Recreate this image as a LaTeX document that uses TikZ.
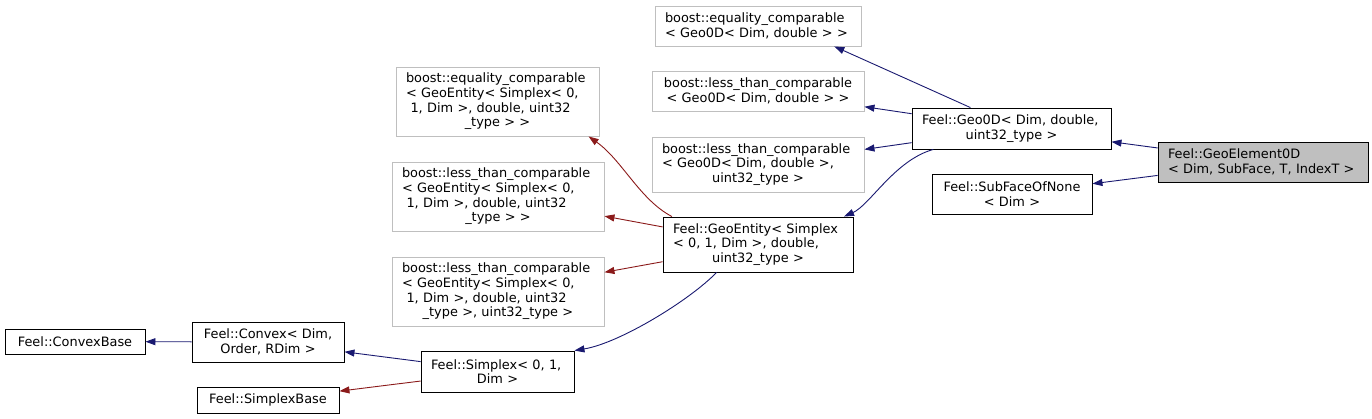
\documentclass[tikz,border=0pt]{standalone}
\usepackage{fontspec}
\setmainfont{DejaVu Sans}
\usetikzlibrary{arrows.meta}
\definecolor{edgeblue}{HTML}{191970}
\definecolor{edgered}{HTML}{8B1A1A}
\definecolor{boxgray}{HTML}{BFBFBF}
\newcommand\ctrline[1]{\hspace*{\fill}#1\hspace*{\fill}\mbox{}}

\begin{document}
\begin{tikzpicture}[x=1pt, y=-1pt,
  cls/.style={draw=black, line width=0.9pt, fill=white, inner xsep=10pt, inner ysep=2pt,
    align=left, font=\fontsize{12.9}{14.7}\selectfont},
  ext/.style={cls, draw=boxgray},
  pub/.style={draw=edgeblue, line width=0.9pt, -{Triangle[length=10pt,width=7pt]}},
  prot/.style={pub, draw=edgered}]
  \useasboundingbox (0,0) rectangle (1372,419);
  % the class itself
  \node[cls, fill=boxgray, text width=190pt, minimum height=40pt] (gel) at (1263,162)
    {Feel::GeoElement0D\\< Dim, SubFace, T, IndexT >};
  % direct bases
  \node[cls, text width=179pt, minimum height=41pt] (geo0d) at (1011.5,128.5)
    {Feel::Geo0D< Dim, double,\\\ctrline{uint32\_type >}};
  \node[cls, text width=140pt, minimum height=40pt, align=center] (subface) at (1012,194)
    {Feel::SubFaceOfNone\\< Dim >};
  % bases of Geo0D
  \node[ext, text width=186pt, minimum height=40pt] (eqgeo) at (758,26)
    {boost::equality\_comparable\\< Geo0D< Dim, double > >};
  \node[ext, text width=192pt, minimum height=40pt, align=center] (lessgeo) at (758,91)
    {boost::less\_than\_comparable\\< Geo0D< Dim, double > >};
  \node[ext, text width=192pt, minimum height=55pt] (lessgeo32) at (758,164.5)
    {boost::less\_than\_comparable\\< Geo0D< Dim, double >,\\\ctrline{uint32\_type >}};
  \node[cls, text width=170pt, minimum height=55pt] (geoent) at (758,244.5)
    {Feel::GeoEntity< Simplex\\< 0, 1, Dim >, double,\\\ctrline{uint32\_type >}};
  % bases of GeoEntity
  \node[ext, text width=183pt, minimum height=69pt] (eqent) at (497.5,101.5)
    {boost::equality\_comparable\\< GeoEntity< Simplex< 0,\\\hspace*{.35em}1, Dim >, double, uint32\\\ctrline{\_type > >}};
  \node[ext, text width=192pt, minimum height=69pt] (lessent) at (498,196.5)
    {boost::less\_than\_comparable\\< GeoEntity< Simplex< 0,\\\hspace*{.35em}1, Dim >, double, uint32\\\ctrline{\_type > >}};
  \node[ext, text width=192pt, minimum height=69pt] (lessent32) at (498,291.5)
    {boost::less\_than\_comparable\\< GeoEntity< Simplex< 0,\\\hspace*{.35em}1, Dim >, double, uint32\\\ctrline{\_type >, uint32\_type >}};
  \node[cls, text width=133pt, minimum height=41pt] (simplex) at (497.5,371.5)
    {Feel::Simplex< 0, 1,\\\ctrline{Dim >}};
  % bases of Simplex
  \node[cls, text width=132pt, minimum height=40pt, align=center] (convex) at (268,342)
    {Feel::Convex< Dim,\\Order, RDim >};
  \node[cls, text width=122pt, minimum height=26pt, align=center] (sbase) at (268,400)
    {Feel::SimplexBase};
  \node[cls, text width=120pt, minimum height=25pt, align=center] (cbase) at (75,341.5)
    {Feel::ConvexBase};

  \draw[pub] (gel) -- (geo0d);
  \draw[pub] (gel) -- (subface);
  \draw[pub] (geo0d.153) -- (eqgeo.-15);
  \draw[pub] (geo0d) -- (lessgeo);
  \draw[pub] (geo0d) -- (lessgeo32);
  \draw[pub] (geo0d.195) .. controls (895,160) and (870,205) .. (geoent.18);
  \draw[prot] (geoent.162) .. controls (640,200) and (622,160) .. (eqent.-21.5);
  \draw[prot] (geoent) -- (lessent);
  \draw[prot] (geoent) -- (lessent32);
  \draw[pub] (geoent.214) .. controls (690,300) and (620,343) .. (simplex.north east);
  \draw[pub] (simplex) -- (convex);
  \draw[prot] (simplex) -- (sbase);
  \draw[pub] (convex) -- (cbase);
\end{tikzpicture}
\end{document}
